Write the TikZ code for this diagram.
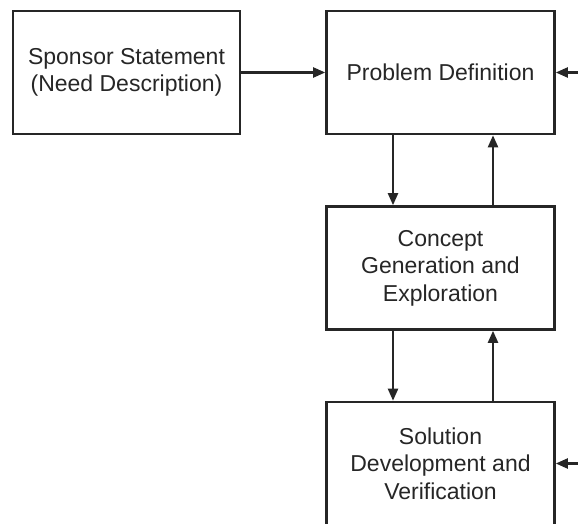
\documentclass[tikz,border=0pt]{standalone}
\usepackage{fontspec}
\setmainfont{Liberation Sans}
\usetikzlibrary{arrows.meta}
\begin{document}
\begin{tikzpicture}[x=0.5pt,y=-0.5pt,
  stage/.style={draw=black!85, line width=1.3pt, fill=white, align=center,
    inner sep=0pt, minimum width=114pt, minimum height=61.5pt,
    font=\fontsize{11.5}{13.8}\selectfont, text=black!85},
  flow/.style={draw=black!85, line width=1.1pt,
    -{Triangle[length=6pt,width=5pt]}}]
  \useasboundingbox (0,0) rectangle (578,524);
  \clip (0,0) rectangle (578,524);
  % process stages
  \node[stage, minimum width=113.5pt] (sponsor) at (126.5,72.5) {Sponsor Statement\\(Need Description)};
  \node[stage] (problem) at (440.5,72.5) {Problem Definition};
  \node[stage] (concept) at (440.5,268) {Concept\\Generation and\\Exploration};
  \node[stage] (solution) at (440.5,463.5) {Solution\\Development and\\Verification};
  % inputs entering from the right
  \coordinate (inA) at (582,72.5);
  \coordinate (inB) at (582,463.5);
  % forward and feedback flows
  \draw[flow] (sponsor.east) -- (problem.west);
  \draw[flow] (inA) -- (problem.east);
  \draw[flow] (inB) -- (solution.east);
  \draw[flow] (problem.south -| 393,0) -- (concept.north -| 393,0);
  \draw[flow] (concept.north -| 493,0) -- (problem.south -| 493,0);
  \draw[flow] (concept.south -| 393,0) -- (solution.north -| 393,0);
  \draw[flow] (solution.north -| 493,0) -- (concept.south -| 493,0);
\end{tikzpicture}
\end{document}
